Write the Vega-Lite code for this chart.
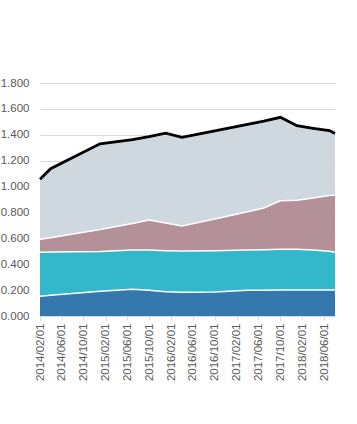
{
  "$schema": "https://vega.github.io/schema/vega-lite/v6.json",
  "autosize": {"type": "none"},
  "width": 295,
  "height": 233,
  "padding": {"left": 40, "top": 83, "right": 22, "bottom": 108},
  "background": "white",
  "config": {
    "view": {"stroke": null},
    "font": "Liberation Sans",
    "axis": {"labelFont": "Liberation Sans", "labelFontSize": 11, "labelColor": "#595959"},
    "axisY": {"labelOverlap": false}
  },
  "data": {
    "values": [
      {"date": "2014-02-01", "series": "s4", "value": 0.152},
      {"date": "2014-02-01", "series": "s3", "value": 0.341},
      {"date": "2014-02-01", "series": "s2", "value": 0.100},
      {"date": "2014-02-01", "series": "s1", "value": 0.463},
      {"date": "2014-04-01", "series": "s4", "value": 0.160},
      {"date": "2014-04-01", "series": "s3", "value": 0.334},
      {"date": "2014-04-01", "series": "s2", "value": 0.111},
      {"date": "2014-04-01", "series": "s1", "value": 0.533},
      {"date": "2015-01-01", "series": "s4", "value": 0.192},
      {"date": "2015-01-01", "series": "s3", "value": 0.306},
      {"date": "2015-01-01", "series": "s2", "value": 0.170},
      {"date": "2015-01-01", "series": "s1", "value": 0.662},
      {"date": "2015-07-01", "series": "s4", "value": 0.207},
      {"date": "2015-07-01", "series": "s3", "value": 0.303},
      {"date": "2015-07-01", "series": "s2", "value": 0.205},
      {"date": "2015-07-01", "series": "s1", "value": 0.648},
      {"date": "2015-10-01", "series": "s4", "value": 0.198},
      {"date": "2015-10-01", "series": "s3", "value": 0.312},
      {"date": "2015-10-01", "series": "s2", "value": 0.232},
      {"date": "2015-10-01", "series": "s1", "value": 0.644},
      {"date": "2016-01-01", "series": "s4", "value": 0.188},
      {"date": "2016-01-01", "series": "s3", "value": 0.317},
      {"date": "2016-01-01", "series": "s2", "value": 0.213},
      {"date": "2016-01-01", "series": "s1", "value": 0.694},
      {"date": "2016-04-01", "series": "s4", "value": 0.183},
      {"date": "2016-04-01", "series": "s3", "value": 0.319},
      {"date": "2016-04-01", "series": "s2", "value": 0.193},
      {"date": "2016-04-01", "series": "s1", "value": 0.686},
      {"date": "2016-10-01", "series": "s4", "value": 0.185},
      {"date": "2016-10-01", "series": "s3", "value": 0.320},
      {"date": "2016-10-01", "series": "s2", "value": 0.245},
      {"date": "2016-10-01", "series": "s1", "value": 0.680},
      {"date": "2017-04-01", "series": "s4", "value": 0.198},
      {"date": "2017-04-01", "series": "s3", "value": 0.312},
      {"date": "2017-04-01", "series": "s2", "value": 0.295},
      {"date": "2017-04-01", "series": "s1", "value": 0.675},
      {"date": "2017-07-01", "series": "s4", "value": 0.198},
      {"date": "2017-07-01", "series": "s3", "value": 0.314},
      {"date": "2017-07-01", "series": "s2", "value": 0.323},
      {"date": "2017-07-01", "series": "s1", "value": 0.670},
      {"date": "2017-10-01", "series": "s4", "value": 0.200},
      {"date": "2017-10-01", "series": "s3", "value": 0.315},
      {"date": "2017-10-01", "series": "s2", "value": 0.375},
      {"date": "2017-10-01", "series": "s1", "value": 0.645},
      {"date": "2018-01-01", "series": "s4", "value": 0.200},
      {"date": "2018-01-01", "series": "s3", "value": 0.315},
      {"date": "2018-01-01", "series": "s2", "value": 0.380},
      {"date": "2018-01-01", "series": "s1", "value": 0.575},
      {"date": "2018-04-01", "series": "s4", "value": 0.200},
      {"date": "2018-04-01", "series": "s3", "value": 0.310},
      {"date": "2018-04-01", "series": "s2", "value": 0.402},
      {"date": "2018-04-01", "series": "s1", "value": 0.538},
      {"date": "2018-07-01", "series": "s4", "value": 0.200},
      {"date": "2018-07-01", "series": "s3", "value": 0.300},
      {"date": "2018-07-01", "series": "s2", "value": 0.430},
      {"date": "2018-07-01", "series": "s1", "value": 0.502},
      {"date": "2018-08-01", "series": "s4", "value": 0.201},
      {"date": "2018-08-01", "series": "s3", "value": 0.292},
      {"date": "2018-08-01", "series": "s2", "value": 0.442},
      {"date": "2018-08-01", "series": "s1", "value": 0.475}
    ]
  },
  "encoding": {
    "x": {
      "field": "date",
      "type": "temporal",
      "title": null,
      "scale": {
        "type": "utc",
        "nice": false,
        "domain": [
          {"year": 2014, "month": 2, "date": 1, "utc": true},
          {"year": 2018, "month": 8, "date": 1, "utc": true}
        ]
      },
      "axis": {
        "labelExpr": "utcFormat(datum.value, '%Y/%m/%d')",
        "labelAngle": -90,
        "labelPadding": 3,
        "tickSize": 4,
        "tickColor": "#d9d9d9",
        "domainColor": "#d9d9d9",
        "grid": false,
        "labelFontSize": 11.5,
        "labelOverlap": false,
        "labelFlush": false,
        "values": [
          {"year": 2014, "month": 2, "date": 1, "utc": true},
          {"year": 2014, "month": 6, "date": 1, "utc": true},
          {"year": 2014, "month": 10, "date": 1, "utc": true},
          {"year": 2015, "month": 2, "date": 1, "utc": true},
          {"year": 2015, "month": 6, "date": 1, "utc": true},
          {"year": 2015, "month": 10, "date": 1, "utc": true},
          {"year": 2016, "month": 2, "date": 1, "utc": true},
          {"year": 2016, "month": 6, "date": 1, "utc": true},
          {"year": 2016, "month": 10, "date": 1, "utc": true},
          {"year": 2017, "month": 2, "date": 1, "utc": true},
          {"year": 2017, "month": 6, "date": 1, "utc": true},
          {"year": 2017, "month": 10, "date": 1, "utc": true},
          {"year": 2018, "month": 2, "date": 1, "utc": true},
          {"year": 2018, "month": 6, "date": 1, "utc": true}
        ]
      }
    }
  },
  "layer": [
    {
      "mark": {"type": "area", "interpolate": "linear"},
      "encoding": {
        "y": {
          "field": "value",
          "type": "quantitative",
          "stack": "zero",
          "title": null,
          "scale": {"domain": [0, 1.8], "nice": false},
          "axis": {
            "format": ".3f",
            "values": [0, 0.2, 0.4, 0.6, 0.8, 1.0, 1.2, 1.4, 1.6, 1.8],
            "ticks": false,
            "domain": false,
            "labelOverlap": false,
            "labelPadding": 11,
            "gridColor": "#d9d9d9",
            "labelFontSize": 11.5
          }
        },
        "color": {
          "field": "series",
          "type": "nominal",
          "legend": null,
          "scale": {"domain": ["s4", "s3", "s2", "s1"], "range": ["#3478AD", "#33B8CB", "#B49199", "#CED8DE"]}
        }
      }
    },
    {
      "transform": [{"filter": "datum.series != 's1'"}],
      "mark": {"type": "line", "interpolate": "linear", "color": "white", "strokeWidth": 1.5},
      "encoding": {
        "y": {
          "field": "value",
          "type": "quantitative",
          "stack": "zero",
          "title": null,
          "axis": {
            "format": ".3f",
            "values": [0, 0.2, 0.4, 0.6, 0.8, 1.0, 1.2, 1.4, 1.6, 1.8],
            "ticks": false,
            "domain": false,
            "labelOverlap": false,
            "labelPadding": 11,
            "gridColor": "#d9d9d9",
            "labelFontSize": 11.5
          }
        },
        "detail": {"field": "series", "type": "nominal"}
      }
    },
    {
      "mark": {"type": "line", "interpolate": "linear", "color": "black", "strokeWidth": 2.75},
      "encoding": {
        "y": {
          "field": "value",
          "type": "quantitative",
          "aggregate": "sum",
          "title": null,
          "axis": {
            "format": ".3f",
            "values": [0, 0.2, 0.4, 0.6, 0.8, 1.0, 1.2, 1.4, 1.6, 1.8],
            "ticks": false,
            "domain": false,
            "labelOverlap": false,
            "labelPadding": 11,
            "gridColor": "#d9d9d9",
            "labelFontSize": 11.5
          }
        }
      }
    }
  ]
}
